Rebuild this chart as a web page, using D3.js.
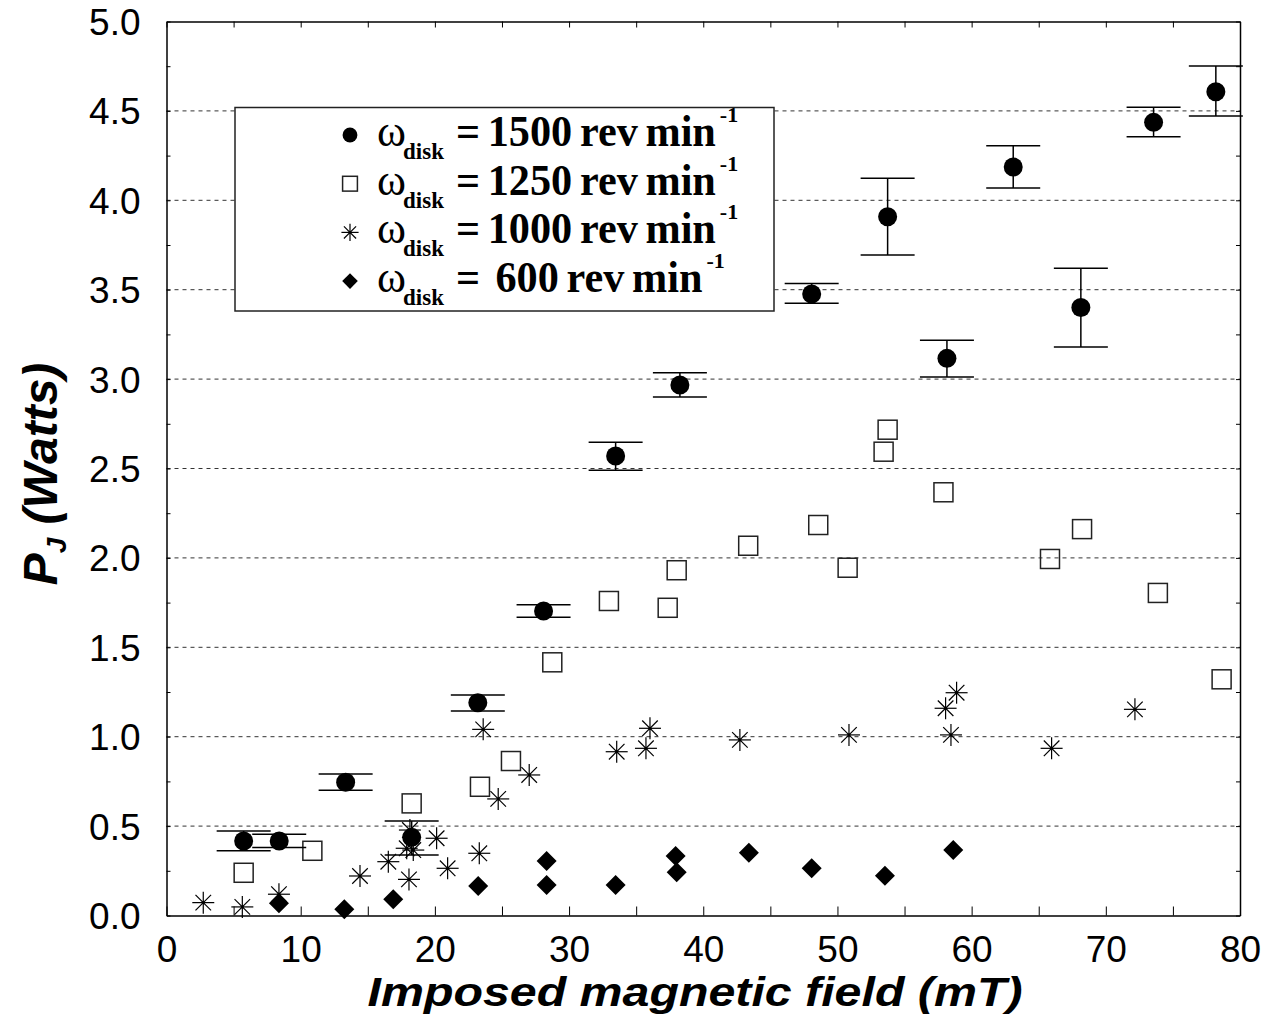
<!DOCTYPE html>
<html><head><meta charset="utf-8">
<script src="https://cdn.jsdelivr.net/npm/d3@7"></script>
<style>body{margin:0;background:#fff}svg{display:block}</style>
</head><body>
<svg id="c" width="1275" height="1028"></svg>
<script>
// ---- data ----
const x1500 = [5.75, 8.4, 13.35, 18.27, 23.2, 28.1, 33.47, 38.26, 48.08, 53.74, 58.16, 63.1, 68.14, 73.56, 78.2];
const y1500 = [0.417, 0.417, 0.745, 0.437, 1.19, 1.703, 2.57, 2.967, 3.476, 3.908, 3.116, 4.186, 3.40, 4.436, 4.607];
const lo1500 = [0.362, 0.38, 0.70, 0.338, 1.144, 1.668, 2.49, 2.90, 3.424, 3.694, 3.012, 4.069, 3.18, 4.356, 4.472];
const hi1500 = [0.473, 0.454, 0.791, 0.528, 1.233, 1.738, 2.647, 3.035, 3.534, 4.123, 3.217, 4.305, 3.62, 4.52, 4.751];

const x1250 = [5.75, 10.87, 18.27, 23.36, 25.67, 28.75, 32.97, 37.35, 38.02, 43.35, 48.57, 50.76, 53.44, 53.74, 57.9, 65.84, 68.23, 73.88, 78.63];
const y1250 = [0.239, 0.362, 0.627, 0.72, 0.864, 1.416, 1.759, 1.721, 1.931, 2.068, 2.184, 1.945, 2.594, 2.717, 2.367, 1.994, 2.161, 1.804, 1.321];

const x1000 = [2.74, 5.65, 8.38, 14.42, 16.53, 17.9, 18.07, 18.14, 18.39, 20.13, 20.95, 23.31, 23.6, 24.72, 27.03, 33.55, 35.73, 36.03, 42.73, 50.86, 58.06, 58.46, 58.88, 65.96, 72.17];
const y1000 = [0.072, 0.048, 0.119, 0.221, 0.301, 0.376, 0.202, 0.478, 0.366, 0.432, 0.264, 0.348, 1.041, 0.652, 0.786, 0.916, 0.935, 1.047, 0.982, 1.01, 1.159, 1.01, 1.246, 0.935, 1.153];

const x600 = [8.38, 13.25, 16.9, 23.23, 28.33, 28.33, 33.47, 37.94, 38.02, 43.4, 48.08, 53.54, 58.63];
const y600 = [0.068, 0.035, 0.091, 0.165, 0.305, 0.171, 0.171, 0.333, 0.242, 0.351, 0.264, 0.223, 0.366];

const xTicks = [0, 10, 20, 30, 40, 50, 60, 70, 80];
const yTicks = [0.0, 0.5, 1.0, 1.5, 2.0, 2.5, 3.0, 3.5, 4.0, 4.5, 5.0];
const gridValues = [0.5, 1.0, 1.5, 2.0, 2.5, 3.0, 3.5, 4.0, 4.5];
const legendNumbers = ["1500", "1250", "1000", " 600"];
const legendKinds = ["circle", "square", "star", "diamond"];
const xTitle = "Imposed magnetic field (mT)";

(function () {
// ---- layout ----
const L = 166.5, R = 1240, T = 21.5, B = 915.5;
const x = d3.scaleLinear().domain([0, 80]).range([L, R]);
const y = d3.scaleLinear().domain([0, 5]).range([B, T]);
const svg = d3.select("#c");
const SANS = "'Liberation Sans', Arial, sans-serif";
const SERIF = "'Liberation Serif', 'Times New Roman', serif";

// grid
svg.append("g").selectAll("line").data(gridValues).join("line")
  .attr("x1", L).attr("x2", R).attr("y1", d => y(d)).attr("y2", d => y(d))
  .attr("stroke", "#333").attr("stroke-width", 1).attr("stroke-dasharray", "4,4");

// axes
const fmtY = d3.format(".1f");
const ax = svg.append("g").attr("font-family", SANS);
ax.append("g").attr("transform", `translate(0,${B})`)
  .call(d3.axisBottom(x).tickValues(d3.range(0, 81, 5)).tickSizeInner(-9).tickSizeOuter(0).tickPadding(20)
    .tickFormat(d => xTicks.includes(d) ? String(d) : ""));
ax.append("g").attr("transform", `translate(0,${T})`)
  .call(d3.axisTop(x).tickValues(d3.range(0, 81, 5)).tickSizeInner(-6).tickSizeOuter(0).tickFormat(""));
const leftAx = ax.append("g").attr("transform", `translate(${L},0)`)
  .call(d3.axisLeft(y).tickValues(d3.range(0, 5.001, 0.25)).tickSizeInner(-4).tickSizeOuter(0).tickPadding(26)
    .tickFormat(d => yTicks.some(t => Math.abs(t - d) < 1e-9) ? fmtY(d) : ""));
ax.append("g").attr("transform", `translate(${R},0)`)
  .call(d3.axisRight(y).tickValues(d3.range(0, 5.001, 0.25)).tickSizeInner(-4).tickSizeOuter(0).tickFormat(""));
ax.selectAll("path.domain").attr("stroke", "#000").attr("stroke-width", 1.5);
ax.selectAll(".tick line").attr("stroke", "#000").attr("stroke-width", 1);
ax.selectAll(".tick text").attr("font-size", 37).attr("fill", "#000").attr("font-family", SANS);
leftAx.selectAll(".tick text").attr("dy", "0.35em");

// titles
svg.append("text").attr("x", 695).attr("y", 1006).attr("text-anchor", "middle")
  .attr("font-family", SANS).attr("font-weight", "bold").attr("font-style", "italic")
  .attr("font-size", 41).attr("textLength", 655).attr("lengthAdjust", "spacingAndGlyphs")
  .text(xTitle);
const yt = svg.append("text").attr("transform", "translate(57,474) rotate(-90)").attr("text-anchor", "middle")
  .attr("font-family", SANS).attr("font-weight", "bold").attr("font-style", "italic").attr("font-size", 48)
  .style("white-space", "pre");
yt.append("tspan").text("P");
yt.append("tspan").attr("font-size", 28).attr("dy", 9).text("J");
yt.append("tspan").attr("dy", -9).text(" (Watts)");

// marker helpers
function drawMarker(g, kind, cx, cy, s) {
  if (kind === "circle") {
    g.append("circle").attr("cx", cx).attr("cy", cy).attr("r", 9.5 * s).attr("fill", "#000");
  } else if (kind === "square") {
    const h = 9.5 * s;
    g.append("rect").attr("x", cx - h).attr("y", cy - h).attr("width", 2 * h).attr("height", 2 * h)
      .attr("fill", "none").attr("stroke", "#222").attr("stroke-width", 1.5);
  } else if (kind === "star") {
    const r = 11 * s, d = r * Math.SQRT1_2;
    const segs = [[-r, 0, r, 0], [0, -r, 0, r], [-d, -d, d, d], [-d, d, d, -d]];
    segs.forEach(p => g.append("line").attr("x1", cx + p[0]).attr("y1", cy + p[1]).attr("x2", cx + p[2]).attr("y2", cy + p[3])
      .attr("stroke", "#000").attr("stroke-width", 1.2));
    g.append("circle").attr("cx", cx).attr("cy", cy).attr("r", 1.6 * s).attr("fill", "#000");
  } else if (kind === "diamond") {
    const h = 10 * s;
    g.append("path").attr("d", `M${cx},${cy - h}L${cx + h},${cy}L${cx},${cy + h}L${cx - h},${cy}Z`).attr("fill", "#000");
  }
}

// series
const gS = svg.append("g");
x1250.forEach((v, i) => drawMarker(gS, "square", x(v), y(y1250[i]), 1));
x1000.forEach((v, i) => drawMarker(gS, "star", x(v), y(y1000[i]), 1));
x600.forEach((v, i) => drawMarker(gS, "diamond", x(v), y(y600[i]), 1));
const gE = svg.append("g").attr("stroke", "#000").attr("stroke-width", 1.5);
x1500.forEach((v, i) => {
  const cx = x(v);
  gE.append("line").attr("x1", cx).attr("x2", cx).attr("y1", y(lo1500[i])).attr("y2", y(hi1500[i]));
  [lo1500[i], hi1500[i]].forEach(e => gE.append("line").attr("x1", cx - 27).attr("x2", cx + 27).attr("y1", y(e)).attr("y2", y(e)));
});
const gC = svg.append("g");
x1500.forEach((v, i) => drawMarker(gC, "circle", x(v), y(y1500[i]), 1));

// legend
const lg = svg.append("g");
lg.append("rect").attr("x", 235).attr("y", 107.5).attr("width", 539).attr("height", 203.5)
  .attr("fill", "#fff").attr("stroke", "#222").attr("stroke-width", 1.5);
legendNumbers.forEach((num, i) => {
  const b = 146 + i * 48.7;
  drawMarker(lg, legendKinds[i], 350, b - 11, 0.78);
  lg.append("text").attr("x", 377).attr("y", b).attr("font-family", SERIF).attr("font-size", 44).text("ω");
  lg.append("text").attr("x", 403).attr("y", b + 13).attr("font-family", SERIF).attr("font-weight", "bold").attr("font-size", 23).text("disk");
  const t = lg.append("text").attr("x", 456).attr("y", b).attr("font-family", SERIF).attr("font-weight", "bold")
    .attr("font-size", 44).style("white-space", "pre").style("word-spacing", "-3px").text("= " + num + " rev min");
  const nat = t.node().getComputedTextLength();
  const target = nat * 0.96;
  t.attr("textLength", target).attr("lengthAdjust", "spacingAndGlyphs");
  lg.append("text").attr("x", 456 + target + 4).attr("y", b - 24).attr("font-family", SERIF).attr("font-weight", "bold")
    .attr("font-size", 22).text("-1");
});
})();
</script>
</body></html>
